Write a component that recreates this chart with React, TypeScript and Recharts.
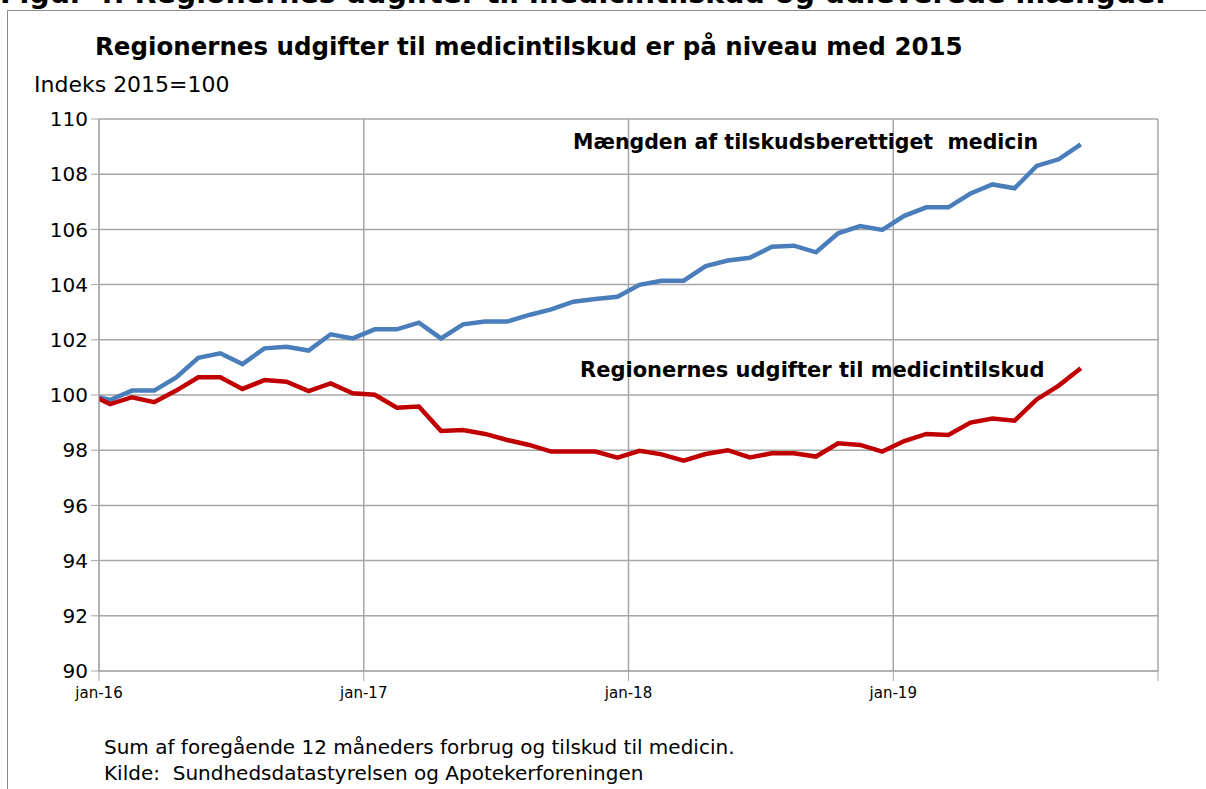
import React from "react";
import { LineChart, Line, XAxis, YAxis, CartesianGrid } from "recharts";

// månedlige indeks (2015=100), fra dec-15 til sep-19
const maanedNavne = ["jan", "feb", "mar", "apr", "maj", "jun", "jul", "aug", "sep", "okt", "nov", "dec"];
const aar = ["16", "17", "18", "19"];

const maengde = [
  100.02, 99.82, 100.16, 100.16, 100.64, 101.35, 101.51, 101.12, 101.69, 101.75, 101.61, 102.2, 102.05,
  102.38, 102.38, 102.62, 102.05, 102.56, 102.66, 102.66, 102.9, 103.1, 103.38, 103.48, 103.56,
  103.99, 104.14, 104.14, 104.67, 104.87, 104.97, 105.37, 105.41, 105.17, 105.86, 106.12, 105.98,
  106.49, 106.8, 106.8, 107.3, 107.63, 107.49, 108.3, 108.54, 109.08,
];

const udgifter = [
  100.05, 99.67, 99.92, 99.74, 100.16, 100.64, 100.64, 100.22, 100.54, 100.48, 100.14, 100.42, 100.06,
  100.01, 99.54, 99.58, 98.7, 98.73, 98.59, 98.37, 98.19, 97.95, 97.95, 97.95, 97.73,
  97.98, 97.85, 97.62, 97.86, 98.0, 97.74, 97.89, 97.89, 97.77, 98.25, 98.19, 97.95,
  98.33, 98.59, 98.55, 99.0, 99.15, 99.07, 99.84, 100.34, 100.97,
];

const aarTicks = [0, 12, 24, 36, 48];
const aarLabels = ["jan-16", "jan-17", "jan-18", "jan-19", ""];
const yTicks = [90, 92, 94, 96, 98, 100, 102, 104, 106, 108, 110];

const maaneder = ["dec-15", ...aar.flatMap((a) => maanedNavne.map((m) => `${m}-${a}`))];

// hvert punkt ligger midt i sin måned
const data = maengde.map((v, i) => ({
  maaned: maaneder[i],
  t: i - 0.5,
  maengde: v,
  udgifter: udgifter[i],
}));

const font = "'DejaVu Sans', Verdana, sans-serif";

const App = () => {
  return (
    <div style={{ position: "absolute", left: 0, top: 0, width: 1206, height: 789, overflow: "hidden", background: "#fff", fontFamily: font }}>
      {/* ramme */}
      <div style={{ position: "absolute", left: 7, top: 10, width: 1200, height: 800, borderLeft: "1px solid #8c8c8c", borderTop: "1px solid #8c8c8c" }} />
      <div style={{ position: "absolute", left: 0, top: -23, fontSize: 28.5, fontWeight: "bold", whiteSpace: "nowrap" }}>
        Figur 4. Regionernes udgifter til medicintilskud og udleverede mængder
      </div>
      <div style={{ position: "absolute", left: 95, top: 32, fontSize: 24.5, fontWeight: "bold", whiteSpace: "nowrap" }}>
        Regionernes udgifter til medicintilskud er på niveau med 2015
      </div>
      <div style={{ position: "absolute", left: 34, top: 72, fontSize: 22, whiteSpace: "nowrap" }}>Indeks 2015=100</div>

      <div style={{ position: "absolute", left: 0, top: 0 }}>
        <LineChart width={1206} height={789} data={data} margin={{ top: 119, right: 48, left: 0, bottom: 88 }}>
          <CartesianGrid stroke="#a6a6a6" strokeWidth={1.5} />
          <XAxis
            dataKey="t"
            type="number"
            domain={[0, 48]}
            allowDataOverflow
            ticks={aarTicks}
            tickFormatter={(v: number) => aarLabels[aarTicks.indexOf(v)]}
            height={30}
            tickSize={10}
            tickMargin={6}
            stroke="#a6a6a6"
            tick={{ fill: "#000", fontSize: 15, fontFamily: font }}
          />
          <YAxis
            domain={[90, 110]}
            ticks={yTicks}
            width={99}
            tickSize={8}
            tickMargin={3}
            stroke="#a6a6a6"
            tick={{ fill: "#000", fontSize: 20, fontFamily: font }}
          />
          <Line type="linear" dataKey="maengde" stroke="#4a7ebb" strokeWidth={4.5} dot={false} isAnimationActive={false} />
          <Line type="linear" dataKey="udgifter" stroke="#c00000" strokeWidth={4.5} dot={false} isAnimationActive={false} />
        </LineChart>
      </div>

      <div style={{ position: "absolute", left: 573, top: 130, fontSize: 20.5, fontWeight: "bold", whiteSpace: "pre" }}>
        Mængden af tilskudsberettiget  medicin
      </div>
      <div style={{ position: "absolute", left: 580, top: 358, fontSize: 21, fontWeight: "bold", whiteSpace: "pre" }}>
        Regionernes udgifter til medicintilskud
      </div>

      <div style={{ position: "absolute", left: 104, top: 734, fontSize: 20, whiteSpace: "pre", lineHeight: "26px" }}>
        Sum af foregående 12 måneders forbrug og tilskud til medicin.{"\n"}Kilde:  Sundhedsdatastyrelsen og Apotekerforeningen
      </div>
    </div>
  );
};

export default App;
